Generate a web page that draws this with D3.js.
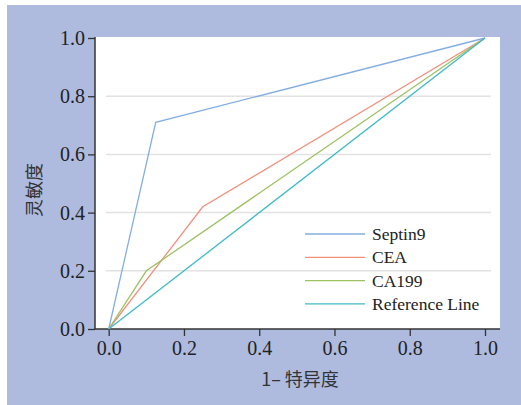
<!DOCTYPE html>
<html>
<head>
<meta charset="utf-8">
<script src="https://cdn.jsdelivr.net/npm/d3@7"></script>
<style>
  body { margin: 0; background: #fff; }
  svg { display: block; }
  .serif { font-family: "Liberation Serif", "Times New Roman", "DejaVu Serif", serif; }
</style>
</head>
<body>
<svg id="chart"></svg>
<script>
// ROC data
const seriesNames = ["Septin9", "CEA", "CA199", "Reference Line"];
const septin9X = [0, 0.125, 1];
const septin9Y = [0, 0.71, 1];
const ceaX = [0, 0.25, 1];
const ceaY = [0, 0.42, 1];
const ca199X = [0, 0.1, 1];
const ca199Y = [0, 0.2, 1];
const refX = [0, 1];
const refY = [0, 1];
const tickValues = [0, 0.2, 0.4, 0.6, 0.8, 1.0];
const gridValues = [0.2, 0.4, 0.6, 0.8];
const colors = ["#84aee0", "#f0907c", "#9dc262", "#3fbac8"];

const width = 521, height = 405;
const svg = d3.select("#chart").attr("width", width).attr("height", height);
const font = "Liberation Serif";
const cjk = "Noto Sans CJK SC";

// blue panel + white plot area
svg.append("rect").attr("x", 7).attr("y", 5).attr("width", width - 7).attr("height", height - 5)
    .attr("fill", "#aebbdf");
svg.append("rect").attr("x", 95).attr("y", 37).attr("width", 405).attr("height", 292)
    .attr("fill", "#fff");

const x = d3.scaleLinear().domain([0, 1]).range([108.7, 485]);
const y = d3.scaleLinear().domain([0, 1]).range([329, 38]);

// gridlines
svg.append("g").selectAll("line").data(gridValues).enter().append("line")
    .attr("x1", 106).attr("x2", 491)
    .attr("y1", d => y(d)).attr("y2", d => y(d))
    .attr("stroke", "#e2e2e2").attr("stroke-width", 1.5);

// axes
const xAxis = svg.append("g").attr("transform", "translate(0,329)")
    .call(d3.axisBottom(x).tickValues(tickValues).tickFormat(d3.format(".1f")).tickSize(7).tickPadding(5));
const yAxis = svg.append("g").attr("transform", "translate(95,0)")
    .call(d3.axisLeft(y).tickValues(tickValues).tickFormat(d3.format(".1f")).tickSize(7).tickPadding(3));
xAxis.select(".domain").attr("d", "M95,0H500");
yAxis.select(".domain").attr("d", "M0,37V329");
[xAxis, yAxis].forEach(g => {
    g.attr("font-family", font).attr("font-size", 20);
    g.selectAll(".domain").attr("stroke", "#333").attr("stroke-width", 1.5);
    g.selectAll(".tick line").attr("stroke", "#333").attr("stroke-width", 1.3);
    g.selectAll("text").attr("fill", "#222").attr("class", "serif");
});

// series lines
const allSeries = [
    septin9X.map((v, i) => [v, septin9Y[i]]),
    ceaX.map((v, i) => [v, ceaY[i]]),
    ca199X.map((v, i) => [v, ca199Y[i]]),
    refX.map((v, i) => [v, refY[i]])
];
const line = d3.line().x(d => x(d[0])).y(d => y(d[1]));
svg.append("g").selectAll("path").data(allSeries).enter().append("path")
    .attr("d", line)
    .attr("fill", "none")
    .attr("stroke", (d, i) => colors[i])
    .attr("stroke-width", 1.3);

// legend
const legend = svg.append("g").selectAll("g").data(seriesNames).enter().append("g")
    .attr("transform", (d, i) => "translate(305," + (234 + i * 23.3) + ")");
legend.append("line").attr("x1", 0).attr("x2", 60)
    .attr("stroke", (d, i) => colors[i]).attr("stroke-width", 1.3);
legend.append("text").attr("x", 67).attr("dy", "0.35em")
    .attr("class", "serif").attr("font-size", 17.5).attr("fill", "#222")
    .text(d => d);

// axis titles
svg.append("text").attr("x", 300).attr("y", 386).attr("text-anchor", "middle")
    .attr("font-family", cjk).attr("font-size", 18).attr("fill", "#333")
    .text("1– 特异度");
svg.append("text").attr("transform", "translate(41,190) rotate(-90)").attr("text-anchor", "middle")
    .attr("font-family", cjk).attr("font-size", 18).attr("fill", "#333")
    .text("灵敏度");
</script>
</body>
</html>
